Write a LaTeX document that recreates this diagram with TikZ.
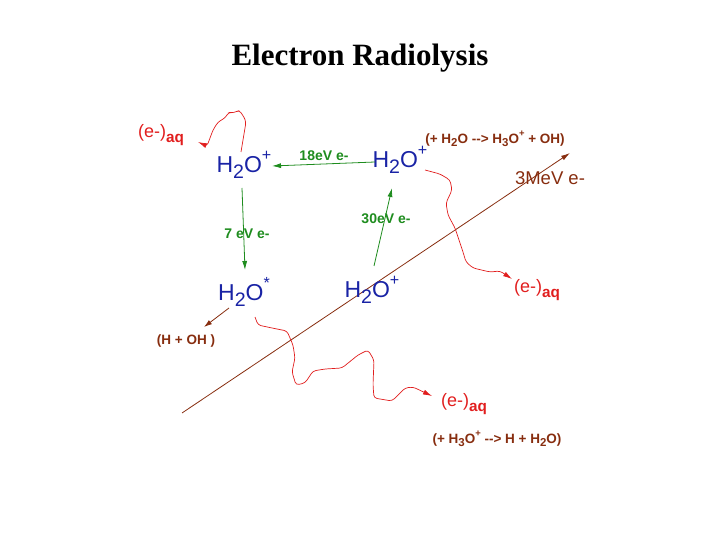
\documentclass[tikz,border=0pt]{standalone}
\usepackage{fontspec}
\setmainfont{Liberation Sans}
\newfontfamily\titlefont{Liberation Serif}
\usetikzlibrary{arrows.meta}
\definecolor{mblue}{RGB}{25,35,165}
\definecolor{mgreen}{RGB}{30,140,30}
\definecolor{mred}{RGB}{225,30,30}
\definecolor{mbrown}{RGB}{135,45,15}
\newcommand\lo[1]{\raisebox{-0.45ex}{\scalebox{0.85}{#1}}}
\newcommand\hi[1]{\raisebox{1.0ex}{\scalebox{0.7}{#1}}}
\tikzset{
 mol/.style={text=mblue,font=\fontsize{23}{26}\selectfont,inner sep=0},
 glab/.style={text=mgreen,font=\bfseries\fontsize{14}{16}\selectfont,inner sep=0},
 blab/.style={text=mbrown,font=\bfseries\fontsize{13.5}{16}\selectfont,inner sep=0},
 elab/.style={text=mred,font=\fontsize{18}{20}\selectfont,inner sep=0},
 garr/.style={draw=mgreen,line width=0.8pt,-{Latex[length=9pt,width=5pt]}},
 rarr/.style={draw=mred,line width=0.7pt,rounded corners=3pt,-{Latex[length=9pt,width=5pt]}},
}
\begin{document}
\begin{tikzpicture}[x=1pt,y=-1pt]
\useasboundingbox (0,0) rectangle (720,540);
\node[font=\titlefont\bfseries\fontsize{31}{34}\selectfont] (title) at (360,58) {Electron Radiolysis};
\coordinate (bs) at (182,413); \coordinate (be) at (570,153);
\draw[draw=mbrown,line width=0.8pt,-{Latex[length=9pt,width=5pt]}] (bs) -- (be);
\node[text=mbrown,font=\fontsize{18.5}{20}\selectfont,inner sep=0] (mev) at (550,178) {3MeV e-};
\node[mol] (a) at (244,165) {H\lo{2}O\hi{+}};
\node[mol] (b) at (400,160) {H\lo{2}O\hi{+}};
\node[mol] (c) at (244,292) {H\lo{2}O\hi{*}};
\node[mol] (d) at (372,290) {H\lo{2}O\hi{+}};
\coordinate (b1) at (375,162); \coordinate (a1) at (272,166);
\draw[garr] (b1) -- (a1);
\node[glab] (l18) at (324,156) {18eV e-};
\coordinate (a2) at (242,188); \coordinate (c1) at (245,270);
\draw[garr] (a2) -- (c1);
\node[glab] (l7) at (247,234) {7 eV e-};
\coordinate (d1) at (374,266); \coordinate (b2) at (392,188);
\draw[garr] (d1) -- (b2);
\node[glab] (l30) at (386,219) {30eV e-};
% squiggles
\coordinate (s1) at (241,152);
\coordinate (e1) at (198,142);
\draw[rarr] (s1) -- (243,140) -- (246,122) -- (244,117) -- (239,110) -- (234,113) -- (229,112) -- (225,118) -- (218,122) -- (213,130) -- (210,138) -- (207,146) -- (e1);
\node[elab] (aq1) at (161,135) {(e-)\lo{\textbf{aq}}};
\coordinate (s2) at (425,170); \coordinate (e2) at (512,279);
\draw[rarr] (s2) -- (440,174) -- (450,180) -- (452,190) -- (446,203) -- (448,215) -- (455,228) -- (459,240) -- (463,252) -- (466,262) -- (473,268) -- (490,272) -- (500,271) -- (e2);
\node[elab] (aq2) at (537,290) {(e-)\lo{\textbf{aq}}};
\coordinate (s3) at (255,317); \coordinate (e3) at (432,396);
\draw[rarr] (s3) -- (258,325) -- (272,328) -- (287,331) -- (293,345) -- (295,358) -- (292,372) -- (296,385) -- (305,383) -- (313,371) -- (325,369) -- (342,368) -- (358,355) -- (368,350) -- (374,360) -- (373,385) -- (374,398) -- (392,401) -- (405,388) -- (413,387) -- (e3);
\node[elab] (aq3) at (464,404) {(e-)\lo{\textbf{aq}}};
\node[blab] (r1) at (495,139) {(+ H\lo{2}O -{}-> H\lo{3}O\hi{+} + OH)};
\node[blab] (r2) at (497,439) {(+ H\lo{3}O\hi{+} -{}-> H + H\lo{2}O)};
\coordinate (c2) at (229,308); \coordinate (hoh) at (204,327);
\draw[draw=mbrown,line width=0.8pt,-{Latex[length=8pt,width=5pt]}] (c2) -- (hoh);
\node[blab] (lhoh) at (186,341) {(H + OH )};
\end{tikzpicture}
\end{document}
